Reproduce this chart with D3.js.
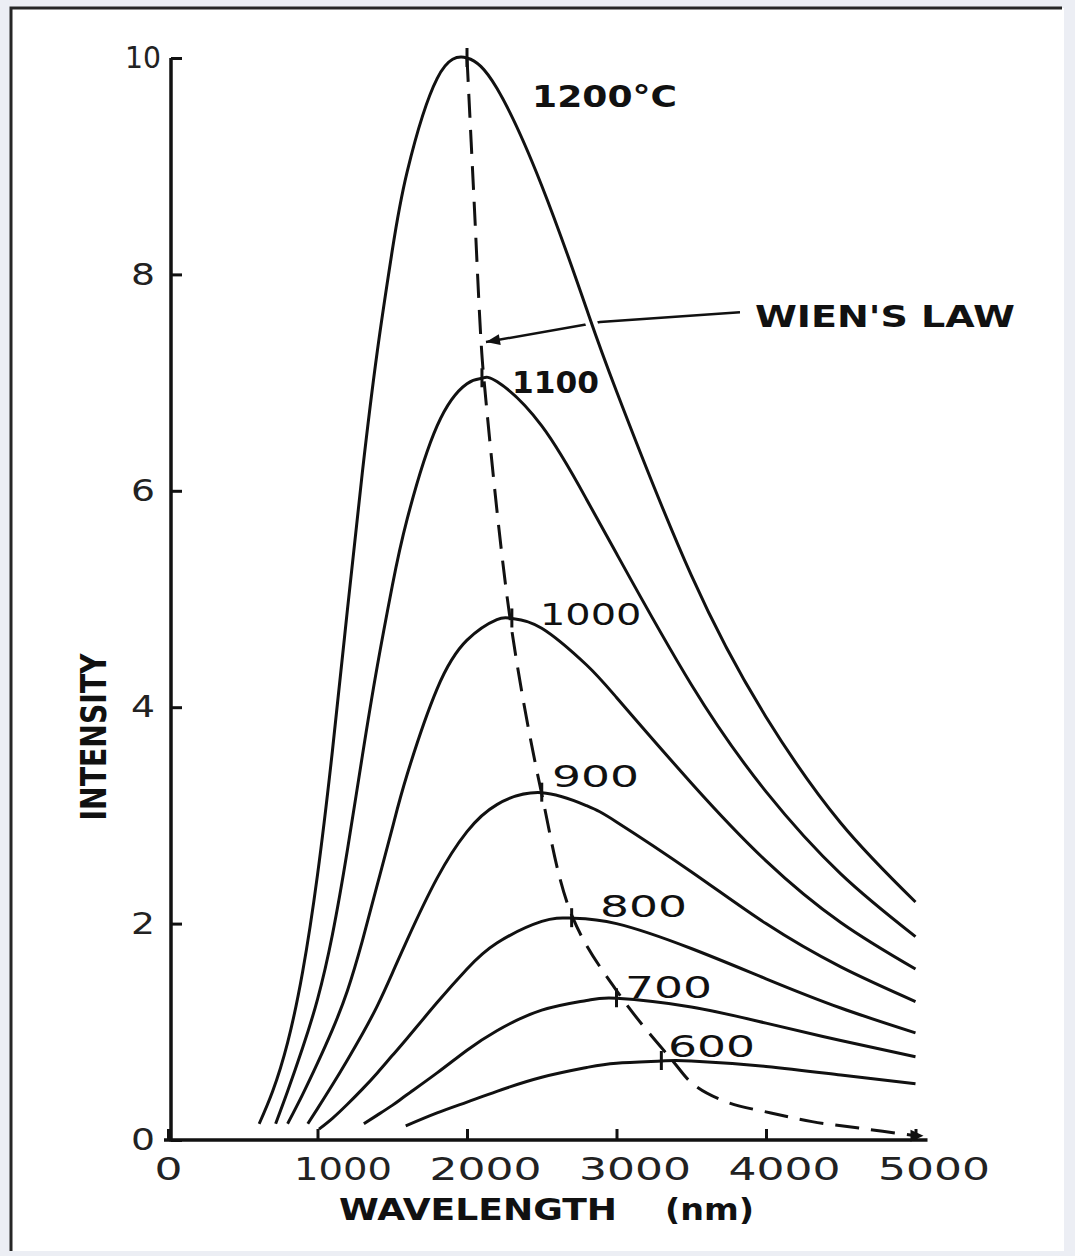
<!DOCTYPE html>
<html><head><meta charset="utf-8">
<script src="https://cdn.jsdelivr.net/npm/d3@7"></script>
<style>
html,body{margin:0;padding:0;background:#eceef4;}
svg{display:block;}
</style></head><body>
<script>
// ---------- data ----------
const temperatures = ["1200°C", "1100", "1000", "900", "800", "700", "600"];

const wavelength1200 = [610, 700, 800, 900, 1000, 1100, 1200, 1300, 1400, 1500, 1600, 1800, 2000, 2200, 2500, 2800, 3000, 3500, 4000, 4500, 5000];
const intensity1200  = [0.15, 0.45, 0.90, 1.55, 2.45, 3.60, 4.90, 6.17, 7.29, 8.22, 8.95, 9.81, 10.0, 9.72, 8.82, 7.68, 6.92, 5.22, 3.91, 2.93, 2.20];

const wavelength1100 = [720, 800, 900, 1000, 1100, 1200, 1300, 1400, 1500, 1600, 1800, 2000, 2100, 2200, 2500, 2800, 3000, 3500, 4000, 4500, 5000];
const intensity1100  = [0.15, 0.45, 0.85, 1.30, 1.90, 2.68, 3.55, 4.38, 5.12, 5.74, 6.60, 6.99, 7.04, 7.01, 6.60, 5.92, 5.42, 4.21, 3.22, 2.46, 1.88];

const wavelength1000 = [800, 900, 1000, 1100, 1200, 1300, 1400, 1500, 1600, 1800, 2000, 2200, 2300, 2500, 2800, 3000, 3500, 4000, 4500, 5000];
const intensity1000  = [0.15, 0.42, 0.71, 1.02, 1.38, 1.84, 2.36, 2.88, 3.38, 4.17, 4.62, 4.81, 4.82, 4.73, 4.39, 4.09, 3.30, 2.58, 2.01, 1.58];

const wavelength900 = [935, 1000, 1100, 1200, 1300, 1400, 1500, 1600, 1800, 2000, 2200, 2500, 2800, 3000, 3500, 4000, 4500, 5000];
const intensity900  = [0.15, 0.29, 0.51, 0.74, 0.98, 1.24, 1.54, 1.85, 2.42, 2.85, 3.10, 3.21, 3.09, 2.94, 2.48, 2.00, 1.60, 1.28];

const wavelength800 = [1010, 1100, 1200, 1300, 1400, 1500, 1600, 1800, 2000, 2200, 2500, 2700, 3000, 3500, 4000, 4500, 5000];
const intensity800  = [0.10, 0.20, 0.33, 0.47, 0.62, 0.78, 0.94, 1.27, 1.58, 1.82, 2.02, 2.05, 2.00, 1.77, 1.49, 1.22, 0.99];

const wavelength700 = [1310, 1400, 1500, 1600, 1800, 2000, 2200, 2500, 2800, 3000, 3500, 4000, 4500, 5000];
const intensity700  = [0.15, 0.23, 0.32, 0.42, 0.62, 0.83, 1.01, 1.20, 1.29, 1.31, 1.23, 1.08, 0.92, 0.77];

const wavelength600 = [1590, 1800, 2000, 2200, 2500, 2800, 3000, 3300, 3500, 4000, 4500, 5000];
const intensity600  = [0.13, 0.25, 0.35, 0.45, 0.58, 0.67, 0.71, 0.73, 0.73, 0.68, 0.60, 0.52];

// Wien's law locus (dashed)
const wienWavelength = [2000, 2047, 2094, 2114, 2288, 2495, 2709, 3037, 3371, 3518, 3739, 4033, 4308, 4622, 5000];
const wienIntensity  = [10.0, 8.69, 7.38, 7.02, 4.82, 3.23, 2.05, 1.31, 0.74, 0.51, 0.35, 0.25, 0.17, 0.11, 0.04];

// annotation anchors (data units)
const labelWavelength = [2435, 2301, 2488, 2569, 2890, 3057, 3344];
const labelIntensity  = [9.55, 6.90, 4.76, 3.26, 2.06, 1.31, 0.77];
const wienLabel = "WIEN'S LAW";
const wienLabelWavelength = 3926, wienLabelIntensity = 7.51;
const wienArrowWavelength = [3826, 2890, 2127];
const wienArrowIntensity  = [7.65, 7.56, 7.375];

const xTicks = [0, 1000, 2000, 3000, 4000, 5000];
const yTicks = [0, 2, 4, 6, 8, 10];
const xTitle = "WAVELENGTH", xUnit = "(nm)", yTitle = "INTENSITY";

const series = [
  {label: temperatures[0], wl: wavelength1200, val: intensity1200},
  {label: temperatures[1], wl: wavelength1100, val: intensity1100},
  {label: temperatures[2], wl: wavelength1000, val: intensity1000},
  {label: temperatures[3], wl: wavelength900,  val: intensity900},
  {label: temperatures[4], wl: wavelength800,  val: intensity800},
  {label: temperatures[5], wl: wavelength700,  val: intensity700},
  {label: temperatures[6], wl: wavelength600,  val: intensity600}
];

// ---------- drawing ----------
const W = 1075, H = 1256;
const ink = "#111";
const FONT = "DejaVu Sans, Verdana, sans-serif";
const svg = d3.select("body").append("svg").attr("width", W).attr("height", H);

// page frame
svg.append("rect").attr("x", 11).attr("y", 8).attr("width", 1053).attr("height", 1243).attr("fill", "#fff");
svg.append("path").attr("d", "M11,1251V8H1062").attr("fill", "none").attr("stroke", "#262626").attr("stroke-width", 3);

const x = d3.scaleLinear().domain([0, 5000]).range([168, 915.5]);
const y = d3.scaleLinear().domain([0, 10]).range([1140, 58]);

function labelWidth(s, unit) {
  return [...s].reduce((a, c) => a + ((c === "1" || c === "°") ? unit / 2 : unit), 0);
}

// x axis
const xAxis = svg.append("g").attr("transform", `translate(0,${y(0)})`)
  .call(d3.axisBottom(x).tickValues(xTicks).tickSizeInner(-11).tickSizeOuter(0).tickPadding(17).tickFormat(d => String(d)));
xAxis.attr("font-size", null).attr("font-family", null);
xAxis.select(".domain").attr("d", `M${x(0) - 4},0H${x(5000) + 12}`).attr("stroke", ink).attr("stroke-width", 3.5);
xAxis.selectAll(".tick line").attr("stroke", ink).attr("stroke-width", 3);
xAxis.selectAll(".tick text")
  .attr("x", d => d === 0 ? 0 : 74)
  .attr("text-anchor", d => d === 0 ? "middle" : "end")
  .attr("font-family", FONT).attr("font-size", 32).attr("fill", "#222")
  .attr("textLength", d => labelWidth(String(d), 28)).attr("lengthAdjust", "spacingAndGlyphs");

// y axis
const yAxis = svg.append("g").attr("transform", `translate(${x(0) + 3},0)`)
  .call(d3.axisLeft(y).tickValues(yTicks).tickSizeInner(-11).tickSizeOuter(0).tickPadding(28).tickFormat(d => String(d)));
yAxis.attr("font-size", null).attr("font-family", null);
yAxis.select(".domain").attr("d", `M0,${y(0) + 1.5}V${y(10)}`).attr("stroke", ink).attr("stroke-width", 3.5);
yAxis.selectAll(".tick line").attr("stroke", ink).attr("stroke-width", 3);
yAxis.selectAll(".tick text")
  .attr("text-anchor", "middle")
  .attr("font-family", FONT).attr("font-size", 30).attr("fill", "#222")
  .attr("textLength", d => labelWidth(String(d), 24)).attr("lengthAdjust", "spacingAndGlyphs");

// axis titles
svg.append("text").attr("x", 339).attr("y", 1220).text(xTitle)
  .attr("font-family", FONT).attr("font-weight", "bold").attr("font-size", 30).attr("fill", ink)
  .attr("textLength", 278).attr("lengthAdjust", "spacingAndGlyphs");
svg.append("text").attr("x", 665).attr("y", 1220).text(xUnit)
  .attr("font-family", FONT).attr("font-weight", "bold").attr("font-size", 30).attr("fill", ink)
  .attr("textLength", 89).attr("lengthAdjust", "spacingAndGlyphs");
svg.append("text").attr("transform", "translate(106,737) rotate(-90)").attr("text-anchor", "middle").text(yTitle)
  .attr("font-family", FONT).attr("font-weight", "bold").attr("font-size", 36).attr("fill", ink)
  .attr("textLength", 167).attr("lengthAdjust", "spacingAndGlyphs");

// Wien's law leader arrow
const straight = d3.line().x(d => x(d[0])).y(d => y(d[1]));
const arrowPts = d3.zip(wienArrowWavelength, wienArrowIntensity);
svg.append("path").datum(arrowPts).attr("d", straight)
  .attr("fill", "none").attr("stroke", ink).attr("stroke-width", 2.5);
{
  const tip = arrowPts[arrowPts.length - 1], prev = arrowPts[arrowPts.length - 2];
  const ang = Math.atan2(y(prev[1]) - y(tip[1]), x(prev[0]) - x(tip[0])) * 180 / Math.PI;
  svg.append("path").attr("d", "M0,0L14,-5.5L14,5.5Z").attr("fill", ink)
    .attr("transform", `translate(${x(tip[0])},${y(tip[1])}) rotate(${ang})`);
}

// curves
const smooth = d3.line().x(d => x(d[0])).y(d => y(d[1])).curve(d3.curveNatural);
series.forEach((s, i) => {
  const pts = d3.zip(s.wl, s.val);
  if (i === 0) {
    svg.append("path").datum(pts).attr("d", smooth).attr("fill", "none")
      .attr("stroke", "#fff").attr("stroke-width", 12);
  }
  svg.append("path").datum(pts).attr("d", smooth).attr("fill", "none")
    .attr("stroke", ink).attr("stroke-width", 3).attr("stroke-linejoin", "round");
});

// Wien's law dashed locus
const wienPts = d3.zip(wienWavelength, wienIntensity);
svg.append("path").datum(wienPts).attr("d", d3.line().x(d => x(d[0])).y(d => y(d[1])).curve(d3.curveCatmullRom.alpha(0.5)))
  .attr("fill", "none").attr("stroke", ink).attr("stroke-width", 3).attr("stroke-dasharray", "24,12");
// peak marks
series.forEach(s => {
  const i = d3.maxIndex(s.val);
  svg.append("line").attr("x1", x(s.wl[i])).attr("x2", x(s.wl[i]))
    .attr("y1", y(s.val[i]) - 10).attr("y2", y(s.val[i]) + 9)
    .attr("stroke", ink).attr("stroke-width", 3);
});
// end mark of the locus
{
  const e = wienPts[wienPts.length - 1];
  svg.append("path").attr("d", "M0,0L-13,-6L-13,6Z").attr("fill", ink)
    .attr("transform", `translate(${x(e[0]) + 8},${y(e[1])})`);
}

// curve labels
svg.selectAll("text.clabel").data(temperatures).join("text").attr("class", "clabel")
  .attr("x", (d, i) => x(labelWavelength[i]))
  .attr("y", (d, i) => y(labelIntensity[i]))
  .text(d => d)
  .attr("font-family", FONT).attr("font-size", 30).attr("fill", ink)
  .attr("font-weight", (d, i) => i < 2 ? "bold" : "normal")
  .attr("textLength", d => labelWidth(d, 29)).attr("lengthAdjust", "spacingAndGlyphs");

// Wien's law label
svg.append("text").attr("x", x(wienLabelWavelength)).attr("y", y(wienLabelIntensity)).text(wienLabel)
  .attr("font-family", FONT).attr("font-weight", "bold").attr("font-size", 31).attr("fill", ink)
  .attr("textLength", 260).attr("lengthAdjust", "spacingAndGlyphs");
</script>
</body></html>
